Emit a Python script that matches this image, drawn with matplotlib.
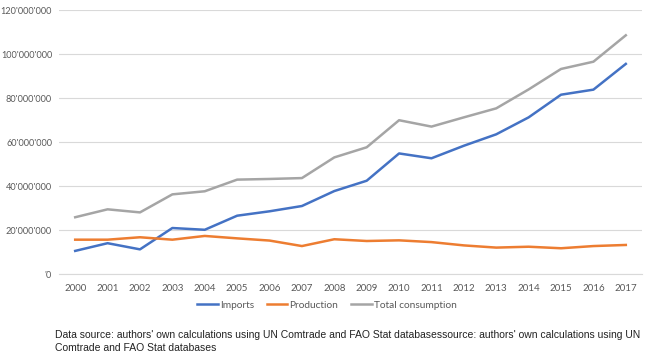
import matplotlib
matplotlib.use("Agg")
import matplotlib.pyplot as plt
from matplotlib.ticker import FuncFormatter

years = [str(y) for y in range(2000, 2018)]
imports = [10.5, 14.0, 11.2, 20.9, 20.1, 26.5, 28.5, 30.9, 37.7, 42.4,
           54.8, 52.6, 58.3, 63.5, 71.2, 81.5, 83.8, 95.5]
production = [15.6, 15.6, 16.7, 15.6, 17.3, 16.2, 15.2, 12.7, 15.8, 15.0,
              15.3, 14.5, 13.0, 12.0, 12.4, 11.7, 12.7, 13.2]
total = [25.8, 29.4, 28.0, 36.2, 37.6, 42.9, 43.2, 43.6, 53.0, 57.6,
         69.9, 67.0, 71.2, 75.3, 83.9, 93.2, 96.5, 108.5]
yticks = [0, 20e6, 40e6, 60e6, 80e6, 100e6, 120e6]
caption = ("Data source: authors' own calculations using UN Comtrade and FAO Stat databasessource: authors' own calculations using UN\n"
           "Comtrade and FAO Stat databases")

fig = plt.figure(figsize=(6.5, 3.62), dpi=100)
ax = fig.add_axes([59/650, 1-274/362, (642-59)/650, (274-10)/362])

x = list(range(len(years)))
s = 1e6
ax.plot(x, [v*s for v in imports], color="#4472C4", lw=1.8, label="Imports")
ax.plot(x, [v*s for v in production], color="#ED7D31", lw=1.8, label="Production")
ax.plot(x, [v*s for v in total], color="#A5A5A5", lw=1.8, label="Total consumption")

ax.set_xlim(-0.5, len(years)-0.5)
ax.set_ylim(0, 120e6)
ax.set_yticks(yticks)
def fmt(v, pos):
    if v == 0:
        return "'0"
    return f"{int(v):,}".replace(",", "'")
ax.yaxis.set_major_formatter(FuncFormatter(fmt))
ax.set_xticks(x)
ax.set_xticklabels(years)
ax.grid(axis="y", color="#D9D9D9", lw=0.8)
ax.set_axisbelow(True)
for sp in ["top", "right", "left"]:
    ax.spines[sp].set_visible(False)
ax.spines["bottom"].set_color("#D9D9D9")
ax.tick_params(axis="x", length=0, labelsize=7, colors="#595959", pad=7)
ax.tick_params(axis="y", length=0, labelsize=6.6, colors="#595959", pad=5)
for lab in ax.get_xticklabels() + ax.get_yticklabels():
    lab.set_family("Lato")

leg = fig.legend(loc="center", bbox_to_anchor=(327/650, 1-305/362), ncol=3,
                 frameon=False, prop={"family": "Lato", "size": 7.3},
                 handlelength=2.0, columnspacing=1.3, handletextpad=0.2)
for t in leg.get_texts():
    t.set_color("#595959")

fig.text(55/650, 1-341.5/362, caption, family="Liberation Sans", fontsize=7.45,
         color="#222222", va="center", ha="left", linespacing=1.45)

fig.savefig("out.png", dpi=100)
